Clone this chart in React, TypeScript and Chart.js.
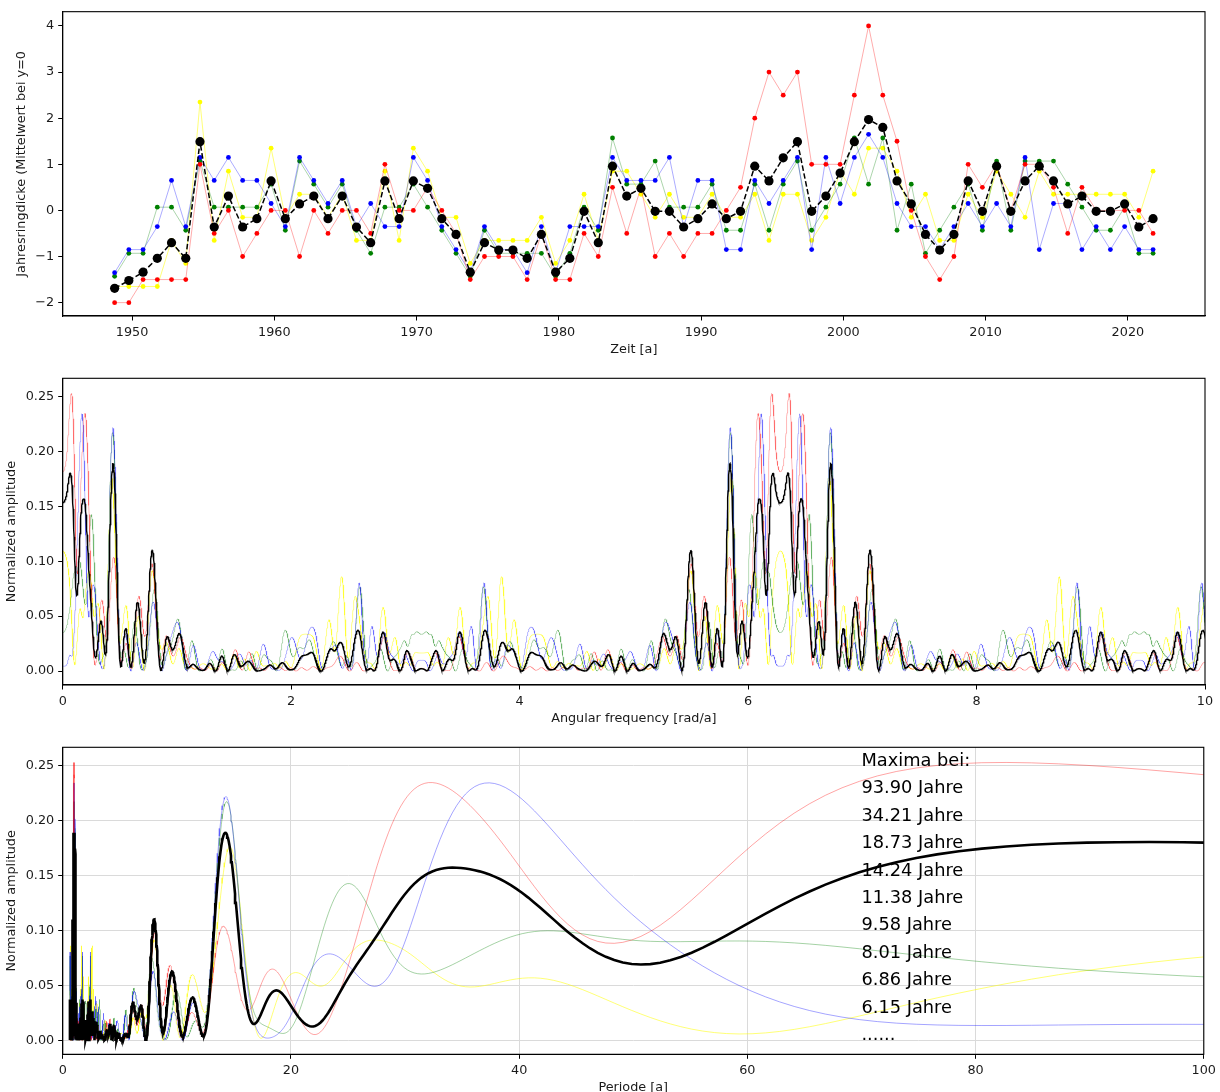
import React, { useEffect, useRef } from "react";
import { Chart, registerables } from "chart.js";

Chart.register(...registerables);

// Messzeitpunkte (Dezimaljahre)
const ZEIT = [
  1948.77, 1949.77, 1950.77, 1951.77, 1952.77, 1953.77, 1954.77, 1955.77, 1956.77, 1957.77,
  1958.77, 1959.77, 1960.77, 1961.77, 1962.77, 1963.77, 1964.77, 1965.77, 1966.77, 1967.77,
  1968.77, 1969.77, 1970.77, 1971.77, 1972.77, 1973.77, 1974.77, 1975.77, 1976.77, 1977.77,
  1978.77, 1979.77, 1980.77, 1981.77, 1982.77, 1983.77, 1984.77, 1985.77, 1986.77, 1987.77,
  1988.77, 1989.77, 1990.77, 1991.77, 1992.77, 1993.77, 1994.77, 1995.77, 1996.77, 1997.77,
  1998.77, 1999.77, 2000.77, 2001.77, 2002.77, 2003.77, 2004.77, 2005.77, 2006.77, 2007.77,
  2008.77, 2009.77, 2010.77, 2011.77, 2012.77, 2013.77, 2014.77, 2015.77, 2016.77, 2017.77,
  2018.77, 2019.77, 2020.77, 2021.77,
];

// Jahresringdicken der einzelnen Proben (Mittelwert bei y=0)
const ROT = [
  -2, -2, -1.5, -1.5, -1.5, -1.5, 1, -0.5, 0, -1,
  -0.5, 0, 0, -1, 0, -0.5, 0, 0, -0.5, 1,
  0, 0, 0.5, 0, -0.5, -1.5, -1, -1, -1, -1.5,
  -0.5, -1.5, -1.5, -0.5, -1, 0.5, -0.5, 0.5, -1, -0.5,
  -1, -0.5, -0.5, 0, 0.5, 2, 3, 2.5, 3, 1,
  1, 1, 2.5, 4, 2.5, 1.5, 0, -1, -1.5, -1,
  1, 0.5, 1, 0, 1, 1, 0.5, -0.5, 0.5, 0,
  0, 0, 0, -0.5,
];
const BLAU = [
  -1.35, -0.85, -0.85, -0.35, 0.65, -0.35, 1.15, 0.65, 1.15, 0.65,
  0.65, 0.15, -0.35, 1.15, 0.65, 0.15, 0.65, -0.35, 0.15, -0.35,
  -0.35, 1.15, 0.65, -0.35, -0.85, -1.35, -0.35, -0.85, -0.85, -1.35,
  -0.35, -1.35, -0.35, -0.35, -0.35, 1.15, 0.65, 0.65, 0.65, 1.15,
  -0.35, 0.65, 0.65, -0.85, -0.85, 0.65, 0.15, 0.65, 1.15, -0.85,
  1.15, 0.15, 1.15, 1.65, 1.15, 0.15, -0.35, -0.35, -0.85, -0.35,
  0.15, -0.35, 0.15, -0.35, 1.15, -0.85, 0.15, 0.15, -0.85, -0.35,
  -0.85, -0.35, -0.85, -0.85,
];
const GRUEN = [
  -1.43, -0.93, -0.93, 0.07, 0.07, -0.43, 1.07, 0.07, 0.07, 0.07,
  0.07, 0.57, -0.43, 1.07, 0.57, 0.07, 0.57, -0.43, -0.93, 0.07,
  0.07, 0.57, 0.07, -0.43, -0.93, -1.43, -0.43, -0.93, -0.93, -0.93,
  -0.93, -1.43, -0.93, 0.07, -0.43, 1.57, 0.57, 0.57, 1.07, 0.07,
  0.07, 0.07, 0.57, -0.43, -0.43, 0.57, -0.43, 0.57, 1.07, -0.43,
  0.07, 0.57, 1.57, 0.57, 1.57, -0.43, 0.57, -0.93, -0.43, 0.07,
  0.57, -0.43, 1.07, -0.43, 1.07, 1.07, 1.07, 0.57, 0.07, -0.43,
  -0.43, 0.07, -0.93, -0.93,
];
const GELB = [
  -1.65, -1.65, -1.65, -1.65, -0.65, -1.15, 2.35, -0.65, 0.85, -0.15,
  -0.15, 1.35, -0.15, 0.35, 0.35, -0.15, 0.35, -0.65, -0.65, 0.85,
  -0.65, 1.35, 0.85, -0.15, -0.15, -1.15, -0.65, -0.65, -0.65, -0.65,
  -0.15, -1.15, -0.65, 0.35, -0.65, 0.85, 0.85, 0.35, -0.15, 0.35,
  -0.15, -0.15, 0.35, -0.15, -0.15, 0.35, -0.65, 0.35, 0.35, -0.65,
  -0.15, 0.85, 0.35, 1.35, 1.35, 0.85, -0.15, 0.35, -0.65, -0.65,
  0.35, -0.15, 0.85, 0.35, -0.15, 0.85, 0.35, 0.35, 0.35, 0.35,
  0.35, 0.35, -0.15, 0.85,
];
// Mittlere Jahresringdicke
const MITTEL = [
  -1.69, -1.52, -1.34, -1.04, -0.7, -1.04, 1.49, -0.36, 0.31, -0.36,
  -0.18, 0.64, -0.18, 0.14, 0.31, -0.18, 0.31, -0.36, -0.7, 0.64,
  -0.18, 0.64, 0.48, -0.18, -0.52, -1.34, -0.7, -0.86, -0.86, -1.04,
  -0.52, -1.34, -1.04, -0.02, -0.7, 0.96, 0.31, 0.48, -0.02, -0.02,
  -0.36, -0.18, 0.14, -0.18, -0.02, 0.96, 0.64, 1.14, 1.49, -0.02,
  0.31, 0.81, 1.49, 1.97, 1.8, 0.64, 0.14, -0.52, -0.86, -0.52,
  0.64, -0.02, 0.96, -0.02, 0.64, 0.96, 0.64, 0.14, 0.31, -0.02,
  -0.02, 0.14, -0.36, -0.18,
];

// Achsenbeschriftungen
const ZEIT_TICKS = [1950, 1960, 1970, 1980, 1990, 2000, 2010, 2020];
const DICKE_TICKS = [-2, -1, 0, 1, 2, 3, 4];
const OMEGA_TICKS = [0, 2, 4, 6, 8, 10];
const PERIODE_TICKS = [0, 20, 40, 60, 80, 100];
const AMPL_TICKS = [0, 0.05, 0.1, 0.15, 0.2, 0.25];

// Gefundene Maxima der mittleren Kurve (Perioden in Jahren)
const MAXIMA_JAHRE = ["93.90", "34.21", "18.73", "14.24", "11.38", "9.58", "8.01", "6.86", "6.15"];

// Frequenzgitter für das Periodogramm
const OMEGA_START = 0.002;
const OMEGA_ENDE = 10;
const OMEGA_SCHRITT = 0.002;
const OMEGA: number[] = [];
for (let w = OMEGA_START; w <= OMEGA_ENDE + 1e-9; w += OMEGA_SCHRITT) OMEGA.push(w);

// Normiertes Lomb-Scargle-Periodogramm
function lombScargle(t: number[], y: number[], freqs: number[]): number[] {
  const n = t.length;
  let yy = 0;
  for (let j = 0; j < n; j++) yy += y[j] * y[j];
  return freqs.map((w) => {
    let xc = 0, xs = 0, cc = 0, ss = 0, cs = 0;
    for (let j = 0; j < n; j++) {
      const c = Math.cos(w * t[j]);
      const s = Math.sin(w * t[j]);
      xc += y[j] * c;
      xs += y[j] * s;
      cc += c * c;
      ss += s * s;
      cs += c * s;
    }
    const tau = Math.atan2(2 * cs, cc - ss) / (2 * w);
    const ct = Math.cos(w * tau);
    const st = Math.sin(w * tau);
    const ct2 = ct * ct, st2 = st * st, cst = 2 * ct * st;
    const p =
      0.5 *
      ((ct * xc + st * xs) ** 2 / (ct2 * cc + cst * cs + st2 * ss) +
        (ct * xs - st * xc) ** 2 / (ct2 * ss - cst * cs + st2 * cc));
    return (p * 2) / yy;
  });
}

type Reihe = { werte: number[]; punkt: string; rgb: string; mittel: boolean };

const REIHEN: Reihe[] = [
  { werte: MITTEL, punkt: "#000000", rgb: "0,0,0", mittel: true },
  { werte: ROT, punkt: "#ff0000", rgb: "255,0,0", mittel: false },
  { werte: BLAU, punkt: "#0000ff", rgb: "0,0,255", mittel: false },
  { werte: GRUEN, punkt: "#008000", rgb: "0,128,0", mittel: false },
  { werte: GELB, punkt: "#ffff00", rgb: "255,255,0", mittel: false },
];

const SPEKTREN = REIHEN.map((r) => lombScargle(ZEIT, r.werte, OMEGA));

const FAMILIE = "'DejaVu Sans', 'Liberation Sans', sans-serif";
const TEXTFARBE = "#1a1a1a";
const TICKFONT = { family: FAMILIE, size: 12.8 };

const linienFarbe = (r: Reihe, alpha: number) =>
  r.mittel ? "#000000" : `rgba(${r.rgb},${r.rgb === "255,255,0" ? Math.min(1, alpha + 0.2) : alpha})`;

const rahmen = {
  id: "rahmen",
  afterDatasetsDraw(chart: any) {
    const { ctx, chartArea: a } = chart;
    ctx.save();
    ctx.strokeStyle = "#000";
    ctx.lineWidth = 1.1;
    ctx.strokeRect(a.left, a.top, a.right - a.left, a.bottom - a.top);
    ctx.restore();
  },
};

const maximaText = {
  id: "maximaText",
  afterDatasetsDraw(chart: any) {
    const { ctx } = chart;
    const x = chart.scales.x.getPixelForValue(70);
    const y0 = chart.scales.y.getPixelForValue(0.25);
    const y1 = chart.scales.y.getPixelForValue(0);
    const zeilen = ["Maxima bei:", ...MAXIMA_JAHRE.map((v) => v + " Jahre"), "......"];
    const schritt = (y1 - y0) / (zeilen.length - 1);
    ctx.save();
    ctx.font = `17.8px ${FAMILIE}`;
    ctx.fillStyle = "#000";
    ctx.textAlign = "left";
    ctx.textBaseline = "alphabetic";
    zeilen.forEach((z, i) => ctx.fillText(z, x, y0 + i * schritt));
    ctx.restore();
  },
};

function achse(opt: {
  min: number;
  max: number;
  ticks: number[];
  fmt: (v: number) => string;
  titel: string;
  titelAbstand: number;
  groesse: number;
  horizontal: boolean;
  gitter: boolean;
}) {
  return {
    type: "linear",
    min: opt.min,
    max: opt.max,
    afterBuildTicks: (s: any) => {
      s.ticks = opt.ticks.map((v) => ({ value: v }));
    },
    afterFit: (s: any) => {
      if (opt.horizontal) s.height = opt.groesse;
      else s.width = opt.groesse;
    },
    ticks: {
      callback: (v: any) => opt.fmt(Number(v)),
      font: TICKFONT,
      color: TEXTFARBE,
      padding: 4,
      maxRotation: 0,
      autoSkip: false,
    },
    grid: {
      drawOnChartArea: opt.gitter,
      drawTicks: true,
      tickLength: 4.5,
      tickColor: "#000",
      tickWidth: 1,
      color: "#dadada",
      lineWidth: 1,
    },
    border: { display: true, color: "#000", width: 1.1 },
    title: {
      display: true,
      text: opt.titel,
      font: { family: FAMILIE, size: 12.8 },
      color: TEXTFARBE,
      padding: opt.horizontal ? { top: 0, bottom: opt.titelAbstand } : { top: opt.titelAbstand, bottom: 0 },
    },
  };
}

const minus = (s: string) => s.replace("-", "\u2212");

function zeitDiagramm(canvas: HTMLCanvasElement) {
  const datasets = REIHEN.map((r) => ({
    data: ZEIT.map((t, i) => ({ x: t, y: r.werte[i] })),
    borderColor: linienFarbe(r, 0.33),
    borderWidth: r.mittel ? 1.5 : 1,
    borderDash: r.mittel ? [5.5, 2.5] : [],
    pointRadius: r.mittel ? 4.6 : 2.4,
    pointBackgroundColor: r.punkt,
    pointBorderWidth: 0,
    pointHoverRadius: 0,
    tension: 0,
    fill: false,
  }));
  return new Chart(canvas, {
    type: "line",
    data: { datasets } as any,
    options: {
      responsive: false,
      animation: false,
      devicePixelRatio: 1,
      events: [],
      layout: { padding: { top: 9, right: 15, left: 0, bottom: 0 } },
      plugins: { legend: { display: false }, tooltip: { enabled: false } },
      scales: {
        x: achse({
          min: 1945.12, max: 2025.42, ticks: ZEIT_TICKS, fmt: (v) => String(v),
          titel: "Zeit [a]", titelAbstand: 8, groesse: 49, horizontal: true, gitter: false,
        }),
        y: achse({
          min: -2.29, max: 4.31, ticks: DICKE_TICKS, fmt: (v) => minus(String(v)),
          titel: "Jahresringdicke (Mittelwert bei y=0", titelAbstand: 14, groesse: 62.7, horizontal: false, gitter: false,
        }),
      } as any,
    },
    plugins: [rahmen],
  });
}

function spektrumDatensaetze(xWert: (w: number) => number, dickeMittel: number, alpha: number) {
  return REIHEN.map((r, k) => ({
    data: OMEGA.map((w, i) => ({ x: xWert(w), y: SPEKTREN[k][i] })),
    borderColor: linienFarbe(r, alpha),
    borderWidth: r.mittel ? dickeMittel : 0.9,
    pointRadius: 0,
    pointHoverRadius: 0,
    tension: 0,
    fill: false,
  }));
}

function frequenzDiagramm(canvas: HTMLCanvasElement) {
  return new Chart(canvas, {
    type: "line",
    data: { datasets: spektrumDatensaetze((w) => w, 1.4, 0.32) } as any,
    options: {
      responsive: false,
      animation: false,
      devicePixelRatio: 1,
      events: [],
      layout: { padding: { top: 13.3, right: 15, left: 0, bottom: 0 } },
      plugins: { legend: { display: false }, tooltip: { enabled: false } },
      scales: {
        x: achse({
          min: 0, max: 10, ticks: OMEGA_TICKS, fmt: (v) => String(v),
          titel: "Angular frequency [rad/a]", titelAbstand: 9, groesse: 50, horizontal: true, gitter: false,
        }),
        y: achse({
          min: -0.0127, max: 0.2667, ticks: AMPL_TICKS, fmt: (v) => v.toFixed(2),
          titel: "Normalized amplitude", titelAbstand: 4, groesse: 62.7, horizontal: false, gitter: false,
        }),
      } as any,
    },
    plugins: [rahmen],
  });
}

function periodenDiagramm(canvas: HTMLCanvasElement) {
  return new Chart(canvas, {
    type: "line",
    data: { datasets: spektrumDatensaetze((w) => (2 * Math.PI) / w, 2.6, 0.4) } as any,
    options: {
      responsive: false,
      animation: false,
      devicePixelRatio: 1,
      events: [],
      layout: { padding: { top: 12.3, right: 15, left: 0, bottom: 0 } },
      plugins: { legend: { display: false }, tooltip: { enabled: false } },
      scales: {
        x: achse({
          min: 0, max: 100, ticks: PERIODE_TICKS, fmt: (v) => String(v),
          titel: "Periode [a]", titelAbstand: 9.7, groesse: 50.7, horizontal: true, gitter: true,
        }),
        y: achse({
          min: -0.0127, max: 0.2667, ticks: AMPL_TICKS, fmt: (v) => v.toFixed(2),
          titel: "Normalized amplitude", titelAbstand: 4, groesse: 62.7, horizontal: false, gitter: true,
        }),
      } as any,
    },
    plugins: [rahmen, maximaText],
  });
}

function Panel(props: { top: number; height: number; make: (c: HTMLCanvasElement) => Chart }) {
  const ref = useRef<HTMLCanvasElement | null>(null);
  const { make } = props;
  useEffect(() => {
    if (!ref.current) return;
    const chart = make(ref.current);
    return () => chart.destroy();
  }, [make]);
  return (
    <canvas
      ref={ref}
      width={1220}
      height={props.height}
      style={{ position: "absolute", left: 0, top: props.top, width: 1220, height: props.height, display: "block" }}
    />
  );
}

export default function App() {
  return (
    <div
      style={{
        position: "absolute",
        left: 0,
        top: 0,
        width: 1220,
        height: 1092,
        overflow: "hidden",
        background: "#ffffff",
      }}
    >
      <Panel top={0} height={365} make={zeitDiagramm} />
      <Panel top={365} height={370} make={frequenzDiagramm} />
      <Panel top={735} height={370} make={periodenDiagramm} />
    </div>
  );
}
